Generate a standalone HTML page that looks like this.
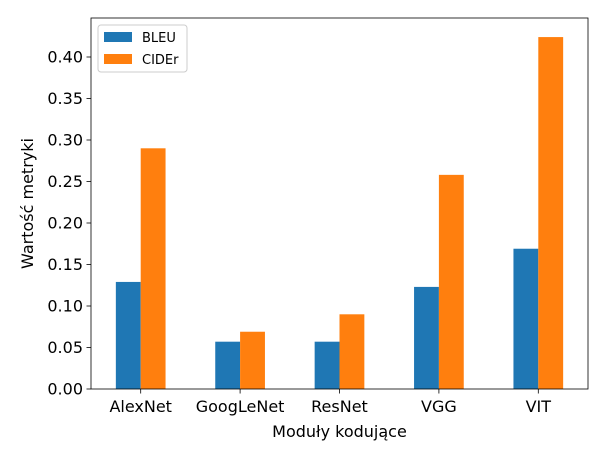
<!DOCTYPE html>
<html><head><meta charset="utf-8">
<style>
body{margin:0;background:#fff;font-family:"Liberation Sans","DejaVu Sans",sans-serif;}
svg text{font-family:"DejaVu Sans","Liberation Sans",sans-serif;}
</style></head>
<body>
<svg id="chart" width="606" height="460" xmlns="http://www.w3.org/2000/svg"></svg>
<script>
const categories = ["AlexNet","GoogLeNet","ResNet","VGG","VIT"];
const bleu = [0.129,0.057,0.057,0.123,0.169];
const cider = [0.290,0.069,0.090,0.258,0.424];
const yTicks = [0,0.05,0.10,0.15,0.20,0.25,0.30,0.35,0.40];
const yTickLabels = ["0.00","0.05","0.10","0.15","0.20","0.25","0.30","0.35","0.40"];

const NS="http://www.w3.org/2000/svg";
const svg=document.getElementById('chart');
const L=91,R=588,T=18,B=389;
const yMax=(B-T)/830;
const y=v=>B-(v/yMax)*(B-T);
const step=(R-L)/categories.length;
const x=i=>L+step*(i+0.5);
const bw=step*0.25;
function mk(tag,attrs,parent){const e=document.createElementNS(NS,tag);for(const k in attrs)e.setAttribute(k,attrs[k]);(parent||svg).appendChild(e);return e;}

categories.forEach((c,i)=>{
  const b=mk('rect',{x:x(i)-bw,y:y(bleu[i]),width:bw,height:B-y(bleu[i]),fill:'#1f77b4'});
  
  
  const d=mk('rect',{x:x(i),y:y(cider[i]),width:bw,height:B-y(cider[i]),fill:'#ff7f0e'});
  
  
  mk('line',{x1:x(i),x2:x(i),y1:B,y2:B+4.5,stroke:'#000','stroke-width':0.8});
  const t=mk('text',{x:x(i),y:B+23,'text-anchor':'middle','font-size':16,fill:'#000'});
  t.textContent=c;
  
  
});
yTicks.forEach((v,i)=>{
  mk('line',{x1:L-4.5,x2:L,y1:y(v),y2:y(v),stroke:'#000','stroke-width':0.8});
  const t=mk('text',{x:L-8,y:y(v)+5.5,'text-anchor':'end','font-size':16,fill:'#000'});
  t.textContent=yTickLabels[i];
  
  
});
const frame=mk('rect',{x:L,y:T,width:R-L,height:B-T,fill:'none',stroke:'#000','stroke-width':0.8});


const xt=mk('text',{x:(L+R)/2,y:437,'text-anchor':'middle','font-size':16});
xt.textContent='Moduły kodujące';


const yt=mk('text',{x:0,y:0,'text-anchor':'middle','font-size':16,transform:'translate(33,'+((T+B)/2)+') rotate(-90)'});
yt.textContent='Wartość metryki';


const lg=mk('g',{});


mk('rect',{x:98,y:25,width:89,height:47,rx:3,fill:'#fff',stroke:'#ccc','stroke-width':1},lg);
mk('rect',{x:104,y:32,width:28,height:10,fill:'#1f77b4'},lg);
mk('rect',{x:104,y:54,width:28,height:10,fill:'#ff7f0e'},lg);
const l1=mk('text',{x:142,y:42,'font-size':13},lg);l1.textContent='BLEU';


const l2=mk('text',{x:142,y:64,'font-size':13},lg);l2.textContent='CIDEr';


</script>
</body></html>
